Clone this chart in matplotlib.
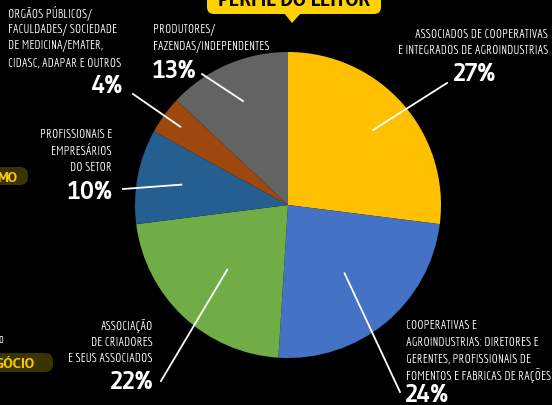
import numpy as np
import matplotlib.pyplot as plt
from matplotlib.patches import FancyBboxPatch, Polygon
from matplotlib import font_manager
from matplotlib.font_manager import FontProperties
from matplotlib.textpath import TextToPath

# data
labels = [
    "ASSOCIADOS DE COOPERATIVAS\nE INTEGRADOS DE AGROINDUSTRIAS",
    "COOPERATIVAS E\nAGROINDUSTRIAS: DIRETORES E\nGERENTES, PROFISSIONAIS DE\nFOMENTOS E FABRICAS DE RAÇÕES",
    "ASSOCIAÇÃO\nDE CRIADORES\nE SEUS ASSOCIADOS",
    "PROFISSIONAIS E\nEMPRESÁRIOS\nDO SETOR",
    "ORGÃOS PÚBLICOS/\nFACULDADES/ SOCIEDADE\nDE MEDICINA/EMATER,\nCIDASC, ADAPAR E OUTROS",
    "PRODUTORES/\nFAZENDAS/INDEPENDENTES",
]
values = [27, 24, 22, 10, 4, 13]
colors = ["#FFC000", "#4472C4", "#70AD47", "#255E91", "#9E480E", "#636363"]
title = "PERFIL DO LEITOR"

t2p = TextToPath()
PX = 100 / 72  # px per point at 100 dpi


def measure(fname, s):
    # width and ink height in px for a 1 pt font
    w, h, d = t2p.get_text_width_height_descent(s, FontProperties(fname=fname, size=10), ismath=False)
    return w * PX / 10, (h - d) * PX / 10


def pick_font(sample, cap_ref, target_w, target_h, wmin, wmax):
    # choose the installed face whose proportions are closest to the reference lettering
    best = None
    seen = set()
    for f in font_manager.fontManager.ttflist:
        if f.fname in seen or f.style != "normal":
            continue
        seen.add(f.fname)
        if any(k in f.name for k in ("CJK", "Math", "Emoji", "Symbol", "Mono")):
            continue
        if not (wmin <= f.weight <= wmax):
            continue
        try:
            if font_manager.get_font(f.fname).get_char_index(ord("Ç")) == 0:
                continue
            w, _ = measure(f.fname, sample)
            _, ch = measure(f.fname, cap_ref)
        except Exception:
            continue
        score = abs(np.log((w / ch) / (target_w / target_h)))
        if best is None or score < best[0]:
            best = (score, f.fname, w)
    return best[1], target_w / best[2]


reg_file, reg_size = pick_font("E SEUS ASSOCIADOS", "E", 81, 9, 400, 500)
bold_file, pct_size = pick_font("22%", "2", 44, 17.5, 600, 800)
reg_size *= 1.04
title_w, _ = measure(bold_file, title)
title_size = 152 / title_w


def fp(size, bold=False):
    return FontProperties(fname=bold_file if bold else reg_file, size=size)


W, H = 552, 406
fig = plt.figure(figsize=(W / 100, H / 100), dpi=100, facecolor="black")
ax = fig.add_axes([0, 0, 1, 1])
ax.set_facecolor("black")

cx, cy, R = 288, 206, 153
wedges, _ = ax.pie(values, colors=colors, startangle=90, counterclock=False,
                   center=(cx, H - cy), radius=R, wedgeprops=dict(linewidth=0))

# layout per label: inner radius fraction, outer line end, first text line (x, y),
# alignment, percent position
layout = [
    dict(r=0.74, end=(447, 84), txt=(548, 33), ha="right", pct=(475, 72), pha="center"),
    dict(r=0.58, end=(400, 393), txt=(406, 325), ha="left", pct=(405, 393), pha="left"),
    dict(r=0.58, end=(161, 382), txt=(153, 325), ha="right", pct=(154, 380), pha="right"),
    dict(r=0.71, end=(123, 190), txt=(112, 134), ha="right", pct=(113, 190), pha="right"),
    dict(r=0.87, end=(133, 95), txt=(8, 12), ha="left", pct=(123, 84), pha="right"),
    dict(r=0.74, end=(202, 75), txt=(153, 29), ha="left", pct=(153, 69), pha="left"),
]
step = 16.5

for w, lab, v, lay in zip(wedges, labels, values, layout):
    mid = np.deg2rad((w.theta1 + w.theta2) / 2)
    x0 = cx + lay["r"] * R * np.cos(mid)
    y0 = (H - cy) + lay["r"] * R * np.sin(mid)
    ax.plot([x0, lay["end"][0]], [y0, H - lay["end"][1]], color="white", lw=1.3)
    tx, ty = lay["txt"]
    for i, line in enumerate(lab.split("\n")):
        ax.text(tx, H - (ty + i * step), line, color="white", fontproperties=fp(reg_size),
                ha=lay["ha"], va="center_baseline")
    ax.text(lay["pct"][0], H - lay["pct"][1], f"{v}%", color="white",
            fontproperties=fp(pct_size, True), ha=lay["pha"], va="center_baseline")

# banner at top
ax.add_patch(FancyBboxPatch((207, H - 15), 174, 30, boxstyle="round,pad=0,rounding_size=7",
                            facecolor="#FFD200", edgecolor="none"))
ax.add_patch(Polygon([(284, H - 14), (301, H - 14), (292, H - 24)], closed=True,
                     facecolor="#FFD200", edgecolor="none"))
ax.text(294, H - 6, title, color="black", fontproperties=fp(title_size, True),
        ha="center", va="baseline")

# cropped side badges
ax.add_patch(FancyBboxPatch((-20, H - 186), 48, 18, boxstyle="round,pad=0,rounding_size=8",
                            facecolor="#3A3400", edgecolor="none"))
ax.text(17, H - 177, "MO", color="#F5C800", fontproperties=fp(reg_size * 1.1, True),
        ha="right", va="center_baseline")
ax.add_patch(FancyBboxPatch((-20, H - 373), 73, 19, boxstyle="round,pad=0,rounding_size=8",
                            facecolor="#3A3400", edgecolor="none"))
ax.text(35, H - 363.5, "GÓCIO", color="#F5C800", fontproperties=fp(reg_size * 1.1, True),
        ha="right", va="center_baseline")
ax.text(3, H - 339, "o", color="white", fontproperties=fp(reg_size), ha="right", va="center_baseline")

ax.set_xlim(0, W)
ax.set_ylim(0, H)
ax.set_aspect("auto")
ax.axis("off")

fig.savefig("out.png", dpi=100, facecolor="black")
